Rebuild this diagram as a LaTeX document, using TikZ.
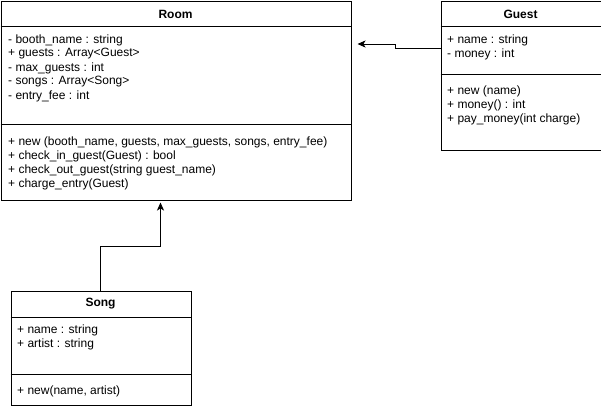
\documentclass[tikz,border=0pt]{standalone}
\usepackage{fontspec}
\setmainfont{Liberation Sans}
\usetikzlibrary{positioning,arrows.meta}

\tikzset{
  classbox/.style={draw, rectangle, line width=1pt, anchor=north west, inner sep=0pt},
  classname/.style={font=\bfseries\fontsize{12}{14}\selectfont, inner sep=0pt},
  member/.style={anchor=west, inner sep=0pt},
  link/.style={line width=1pt, -{Stealth[length=8pt,width=7pt,inset=2pt]}}
}

\begin{document}
\begin{tikzpicture}[x=1pt,y=-1pt,font=\fontsize{12}{14}\selectfont]
\useasboundingbox (0,0) rectangle (601,408);

% Room
\node[classbox, minimum width=350pt, minimum height=199pt] (Room) at (0.5,0.5) {};
\node[classname] (RoomT) at (175.5,14) {Room};
\draw[line width=1pt] (0.5,26) -- (350.5,26);
\draw[line width=1pt] (0.5,124) -- (350.5,124);
\foreach \txt [count=\i] in {{- booth\_name : string}, {+ guests : Array<Guest>},
    {- max\_guests : int}, {- songs : Array<Song>}, {- entry\_fee : int}}
  \node[member] (RoomA\i) at (8,26+14*\i) {\txt};
\foreach \txt [count=\i] in {{+ new (booth\_name, guests, max\_guests, songs, entry\_fee)},
    {+ check\_in\_guest(Guest) : bool}, {+ check\_out\_guest(string guest\_name)},
    {+ charge\_entry(Guest)}}
  \node[member] (RoomM\i) at (8,128+14*\i) {\txt};

% Guest
\node[classbox, minimum width=160pt, minimum height=149pt] (Guest) at (440.5,0.5) {};
\node[classname] (GuestT) at (520.5,14) {Guest};
\draw[line width=1pt] (440.5,26) -- (600.5,26);
\draw[line width=1pt] (440.5,74) -- (600.5,74);
\foreach \txt [count=\i] in {{+ name : string}, {- money : int}}
  \node[member] (GuestA\i) at (447,26+14*\i) {\txt};
\foreach \txt [count=\i] in {{+ new (name)}, {+ money() : int}, {+ pay\_money(int charge)}}
  \node[member] (GuestM\i) at (447,77+14*\i) {\txt};

% Song
\node[classbox, minimum width=180pt, minimum height=114pt] (Song) at (10.5,290.5) {};
\node[classname] (SongT) at (100.5,304) {Song};
\draw[line width=1pt] (10.5,317) -- (190.5,317);
\draw[line width=1pt] (10.5,374) -- (190.5,374);
\foreach \txt [count=\i] in {{+ name : string}, {+ artist : string}}
  \node[member] (SongA\i) at (17,316+14*\i) {\txt};
\node[member] (SongM1) at (17,391) {+ new(name, artist)};

% connectors
\coordinate (guestout) at ([yshift=-47.5pt]Guest.north west);
\coordinate (roomin) at ([xshift=6pt,yshift=-43.5pt]Room.north east);
\draw[link] (guestout) -- ++(-45,0) |- (roomin);

\coordinate (songout) at ([xshift=90pt]Song.north west);
\coordinate (roomfoot) at ([xshift=160pt,yshift=-2pt]Room.south west);
\draw[link] (songout) -- ++(0,-44) -| (roomfoot);
\end{tikzpicture}
\end{document}
